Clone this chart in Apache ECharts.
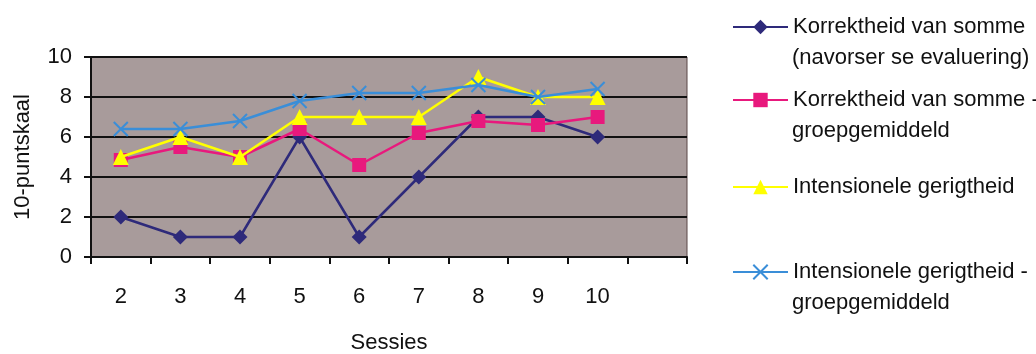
<!DOCTYPE html>
<html>
<head>
<meta charset="utf-8">
<script src="https://cdn.jsdelivr.net/npm/echarts@6/dist/echarts.min.js"></script>
<style>
html,body{margin:0;padding:0;background:#fff;}
#c{width:1036px;height:354px;}
</style>
</head>
<body>
<div id="c"></div>
<script>
const categories = ['2','3','4','5','6','7','8','9','10',''];
const seriesNames = [
  'Korrektheid van somme\n(navorser se evaluering)',
  'Korrektheid van somme -\ngroepgemiddeld',
  'Intensionele gerigtheid',
  'Intensionele gerigtheid -\ngroepgemiddeld'
];
const korrektheidNavorser = [2,1,1,6,1,4,7,7,6];
const korrektheidGroep = [4.85,5.5,5.0,6.4,4.6,6.2,6.8,6.6,7.0];
const intensioneel = [5,6,5,7,7,7,9,8,8];
const intensioneelGroep = [6.4,6.4,6.8,7.8,8.2,8.2,8.6,8.0,8.4];

const FONT = "'Liberation Sans', Arial, sans-serif";
const FS = 22;
const colors = ['#2e2a7a','#e8197d','#ffff00','#3a8ed8'];
const symbols = ['diamond','rect','triangle','path://M0,0 L10,10 M10,0 L0,10'];
const sizes = [15,14,16,14];
const datas = [korrektheidNavorser, korrektheidGroep, intensioneel, intensioneelGroep];
const legendCenters = [27,100,187,272];
const secondLineCenters = [58,131,null,303];

const chart = echarts.init(document.getElementById('c'), null, {renderer:'canvas'});
const series = datas.map((d,i)=>({
  name: seriesNames[i],
  type:'line',
  data:d,
  symbol: symbols[i],
  symbolSize: sizes[i],
  showAllSymbol:true,
  z: 3+i,
  lineStyle:{color:colors[i], width:2.5},
  itemStyle: i===3 ? {color:colors[i], borderColor:colors[i], borderWidth:2} : {color:colors[i]},
  emphasis:{disabled:true},
  animation:false
}));
const legends = seriesNames.map((n,i)=>({
  data:[n],
  left:732, top:legendCenters[i]-15,
  orient:'vertical',
  padding:0,
  itemWidth:55, itemHeight:18,
  selectedMode:false,
  formatter: name => name.split('\n')[0],
  textStyle:{fontFamily:FONT, fontSize:FS, color:'#111', lineHeight:30}
}));
const graphics = [];
secondLineCenters.forEach((y,i)=>{
  if (y === null) return;
  graphics.push({
    type:'text', left:792, top:y-15,
    style:{text: seriesNames[i].split('\n')[1], font:FS+'px '+FONT, fill:'#111', lineHeight:30}
  });
});
chart.setOption({
  animation:false,
  backgroundColor:'#ffffff',
  grid:{left:91, right:349, top:57, bottom:97, outerBoundsMode:'none', containLabel:false,
        show:true, backgroundColor:'#a89b9b', borderColor:'#5b4646', borderWidth:1},
  xAxis:{
    type:'category', data:categories, boundaryGap:true,
    name:'Sessies', nameLocation:'middle', nameGap:75,
    nameTextStyle:{fontFamily:FONT, fontSize:FS, color:'#111'},
    axisLine:{lineStyle:{color:'#111', width:2}},
    axisTick:{show:true, length:7, lineStyle:{color:'#111', width:2}},
    axisLabel:{fontFamily:FONT, fontSize:FS, color:'#111', margin:29, interval:0}
  },
  yAxis:{
    type:'value', min:0, max:10, interval:2,
    name:'10-puntskaal', nameLocation:'middle', nameGap:57,
    nameTextStyle:{fontFamily:FONT, fontSize:FS, color:'#111'},
    axisLine:{show:true, lineStyle:{color:'#111', width:2}},
    axisTick:{show:true, length:7, lineStyle:{color:'#111', width:2}},
    axisLabel:{fontFamily:FONT, fontSize:FS, color:'#111', margin:19},
    splitLine:{show:true, lineStyle:{color:'#111', width:2}}
  },
  legend: legends,
  graphic: graphics,
  series: series
});
</script>
</body>
</html>
